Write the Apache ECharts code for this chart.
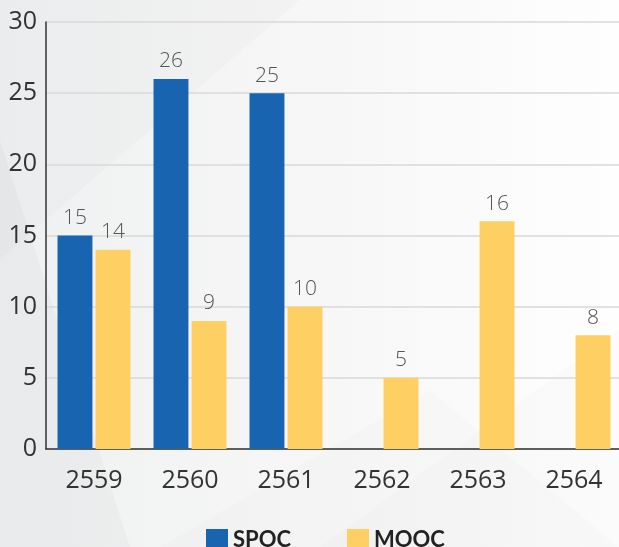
<!DOCTYPE html>
<html>
<head>
<meta charset="utf-8">
<script src="https://cdn.jsdelivr.net/npm/echarts@6/dist/echarts.min.js"></script>
<style>
  html, body { margin: 0; padding: 0; }
  #chart { width: 619px; height: 547px; }
</style>
</head>
<body>
<div id="chart"></div>
<script>
const years = ['2559', '2560', '2561', '2562', '2563', '2564'];
const spoc = [15, 26, 25, null, null, null];
const mooc = [14, 9, 10, 5, 16, 8];
const yTicks = { min: 0, max: 30, interval: 5 };

let chart = echarts.init(document.getElementById('chart'));

// soft grey shapes in the background
let bgShapes = [
    { points: [[0, 0], [300, 0], [0, 260]], fill: 'rgba(0,0,0,0.015)' },
    { points: [[0, 140], [130, 547], [0, 547]], fill: 'rgba(0,0,0,0.025)' },
    { points: [[320, 547], [619, 330], [619, 547]], fill: 'rgba(0,0,0,0.012)' },
    { points: [[160, 547], [430, 390], [619, 547]], fill: 'rgba(0,0,0,0.012)' }
].map(s => ({
    type: 'polygon', silent: true, z: -10,
    shape: { points: s.points },
    style: { fill: s.fill }
}));

const labelStyle = { show: true, position: 'top', distance: 7, fontSize: 21, color: '#555', fontFamily: 'Open Sans', fontWeight: 300 };

let option = {
    backgroundColor: {
        type: 'linear', x: 0, y: 0, x2: 1, y2: 0,
        colorStops: [{ offset: 0, color: '#eff0f1' }, { offset: 0.6, color: '#f8f8f8' }, { offset: 1, color: '#fefefe' }]
    },
    graphic: bgShapes,
    textStyle: { fontFamily: 'Open Sans' },
    grid: { left: 46, width: 576, top: 22, bottom: 98, containLabel: false, outerBoundsMode: 'none' },
    legend: {
        top: 524,
        left: 201,
        itemWidth: 22,
        itemHeight: 22,
        itemGap: 56,
        icon: 'rect',
        textStyle: { fontSize: 22, fontWeight: 'bold', color: '#222', fontFamily: 'Lato' },
        data: ['SPOC', 'MOOC']
    },
    xAxis: {
        type: 'category',
        data: years,
        axisLine: { lineStyle: { color: '#333', width: 1.5 } },
        axisTick: { inside: true, length: 10, lineStyle: { color: '#333' } },
        axisLabel: { fontSize: 25, color: '#333', margin: 19 }
    },
    yAxis: {
        type: 'value',
        min: yTicks.min, max: yTicks.max, interval: yTicks.interval,
        axisLine: { show: true, lineStyle: { color: '#333', width: 1.5 } },
        axisTick: { show: false },
        axisLabel: { fontSize: 25, color: '#333', margin: 9 },
        splitLine: { lineStyle: { color: '#d8d8d8', width: 1.5 } }
    },
    series: [
        {
            name: 'SPOC', type: 'bar', data: spoc,
            itemStyle: { color: '#1864b1' },
            barGap: '9%', barCategoryGap: '24%',
            label: labelStyle
        },
        {
            name: 'MOOC', type: 'bar', data: mooc,
            itemStyle: { color: '#fecf62' },
            label: labelStyle
        }
    ]
};

chart.setOption(option);
</script>
</body>
</html>
